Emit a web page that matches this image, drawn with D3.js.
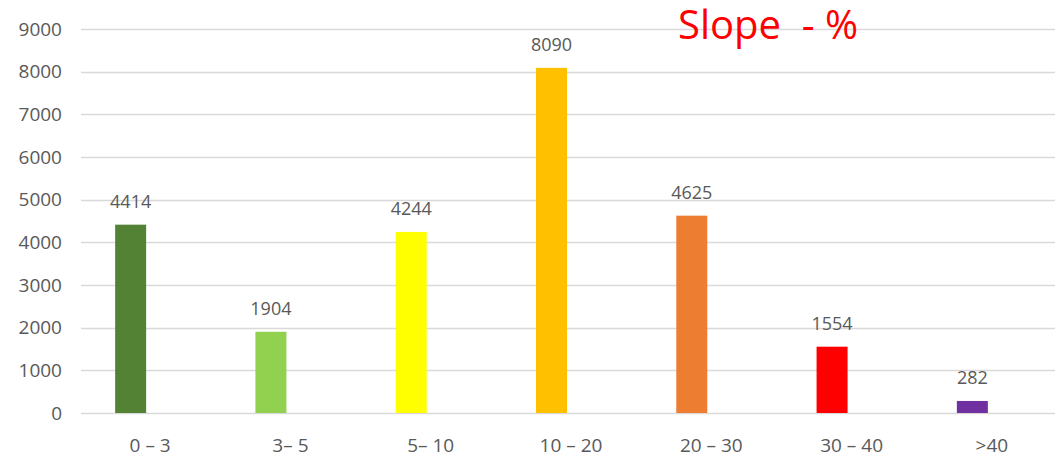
<!DOCTYPE html>
<html>
<head>
<meta charset="utf-8">
<script src="https://cdn.jsdelivr.net/npm/d3@7"></script>
<style>
  html, body { margin: 0; padding: 0; background: #fff; }
  svg { display: block; }
</style>
</head>
<body>
<svg id="chart" width="1055" height="458"></svg>
<script>
// Area per slope class
const categories = ["0 – 3", "3– 5", "5– 10", "10 – 20", "20 – 30", "30 – 40", ">40"];
const values = [4414, 1904, 4244, 8090, 4625, 1554, 282];
const colors = ["#548235", "#92d050", "#ffff00", "#ffc000", "#ed7d31", "#ff0000", "#7030a0"];
const yTicks = [0, 1000, 2000, 3000, 4000, 5000, 6000, 7000, 8000, 9000];
const title = "Slope  - %";

const svg = d3.select("#chart");
const W = 1055, H = 458;
const plot = { left: 80, right: 1062, top: 29, bottom: 413 };

const x = d3.scaleBand().domain(categories).range([plot.left, plot.right]);
const y = d3.scaleLinear().domain([0, 9000]).range([plot.bottom, plot.top]);

const textColor = "#595959";
const font = "'Open Sans', 'Noto Sans', sans-serif";

// Horizontal gridlines
svg.append("g")
  .selectAll("line")
  .data(yTicks)
  .join("line")
  .attr("x1", plot.left + 1)
  .attr("x2", W)
  .attr("y1", d => Math.round(y(d)) + 0.5)
  .attr("y2", d => Math.round(y(d)) + 0.5)
  .attr("stroke", "#d9d9d9")
  .attr("stroke-width", 1.5);

// Y axis labels
const yAxis = d3.axisLeft(y).tickValues(yTicks).tickSize(0).tickPadding(0).tickFormat(d3.format("d"));
svg.append("g")
  .attr("transform", `translate(62,0)`)
  .call(yAxis)
  .call(g => g.select(".domain").remove())
  .selectAll("text")
  .attr("fill", textColor)
  .style("font-family", font)
  .style("font-size", "19px");

// Bars sit left of each category centre
const barW = 31, barOffset = -35;
svg.append("g")
  .selectAll("rect")
  .data(values)
  .join("rect")
  .attr("x", (d, i) => x(categories[i]) + x.bandwidth() / 2 + barOffset)
  .attr("y", d => y(d))
  .attr("width", barW)
  .attr("height", d => y(0) - y(d))
  .attr("fill", (d, i) => colors[i]);

// Value labels above bars
svg.append("g")
  .selectAll("text")
  .data(values)
  .join("text")
  .attr("x", (d, i) => x(categories[i]) + x.bandwidth() / 2 + barOffset + barW / 2)
  .attr("y", d => y(d) - 17)
  .attr("text-anchor", "middle")
  .attr("fill", textColor)
  .style("font-family", font)
  .style("font-size", "18px")
  .text(d => d);

// Category labels
const xAxis = d3.axisBottom(x).tickSize(0).tickPadding(0);
svg.append("g")
  .attr("transform", `translate(0,${plot.bottom})`)
  .call(xAxis)
  .call(g => g.select(".domain").remove())
  .selectAll("text")
  .attr("dy", null)
  .attr("y", 39)
  .attr("fill", textColor)
  .style("font-family", font)
  .style("font-size", "19px");

// Title
svg.append("text")
  .attr("x", 678)
  .attr("y", 39)
  .attr("fill", "#ff0000")
  .style("font-family", font)
  .style("font-size", "40px")
  .style("white-space", "pre")
  .text(title);
</script>
</body>
</html>
